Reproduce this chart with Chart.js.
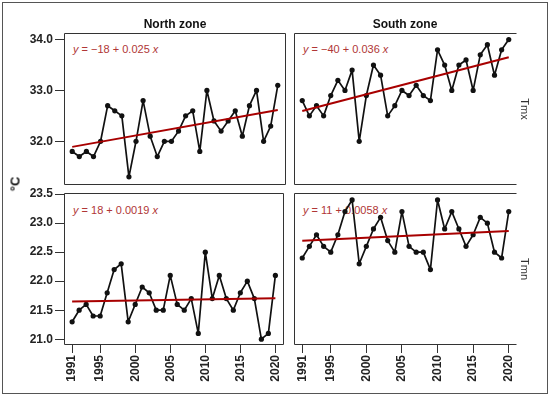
<!DOCTYPE html>
<html lang="en">
<head>
  <meta charset="UTF-8">
  <title>Tmx / Tmn by zone</title>
  <script src="https://cdn.jsdelivr.net/npm/chart.js"></script>
  <style>
    body {
      margin: 0;
      width: 550px;
      height: 396px;
      background: #fff;
      font-family: "Liberation Sans", Arial, sans-serif;
      position: relative;
      overflow: hidden;
    }
    .frame {
      position: absolute;
      left: 2px; top: 2px;
      width: 546px; height: 392px;
      box-sizing: border-box;
      border: 1px solid #555;
    }
    canvas { position: absolute; z-index: 2; }
    .lbl {
      position: absolute;
      transform: translate(-50%, -50%);
      white-space: nowrap;
      color: #111;
      z-index: 3;
    }
    .strip { font-size: 12px; font-weight: bold; }
    .side { font-size: 11px; color: #333; transform: translate(-50%, -50%) rotate(90deg); }
    .unit { font-size: 13px; font-weight: bold; transform: translate(-50%, -50%) rotate(-90deg); }
    .eq {
      position: absolute;
      font-size: 11px;
      color: #b03636;
      white-space: nowrap;
      z-index: 1;
    }
  </style>
</head>
<body>

<div class="frame"></div>

<div class="lbl strip" style="left:175px; top:24px;">North zone</div>
<div class="lbl strip" style="left:405px; top:24px;">South zone</div>
<div class="lbl side" style="left:525px; top:109px;">Tmx</div>
<div class="lbl side" style="left:525px; top:269px;">Tmn</div>
<div class="lbl unit" style="left:15px; top:184px;">°C</div>

<div class="eq" style="left:73px; top:43px;"><i>y</i> = −18 + 0.025 <i>x</i></div>
<div class="eq" style="left:303px; top:43px;"><i>y</i> = −40 + 0.036 <i>x</i></div>
<div class="eq" style="left:73px; top:204px;"><i>y</i> = 18 + 0.0019 <i>x</i></div>
<div class="eq" style="left:303px; top:204px;"><i>y</i> = 11 + 0.0058 <i>x</i></div>

<canvas id="nTmx" width="292" height="172" style="left:0; top:23px;"></canvas>
<canvas id="sTmx" width="240" height="172" style="left:288px; top:23px;"></canvas>
<canvas id="nTmn" width="292" height="210" style="left:0; top:183px;"></canvas>
<canvas id="sTmn" width="240" height="210" style="left:288px; top:183px;"></canvas>

<script>
  // years 1991..2020
  const years = [1991,1992,1993,1994,1995,1996,1997,1998,1999,2000,
                 2001,2002,2003,2004,2005,2006,2007,2008,2009,2010,
                 2011,2012,2013,2014,2015,2016,2017,2018,2019,2020];

  const northTmx = [31.8,31.7,31.8,31.7,32.0,32.7,32.6,32.5,31.3,32.0,
                    32.8,32.1,31.7,32.0,32.0,32.2,32.5,32.6,31.8,33.0,
                    32.4,32.2,32.4,32.6,32.1,32.7,33.0,32.0,32.3,33.1];
  const southTmx = [32.8,32.5,32.7,32.5,32.9,33.2,33.0,33.4,32.0,32.9,
                    33.5,33.3,32.5,32.7,33.0,32.9,33.1,32.9,32.8,33.8,
                    33.5,33.0,33.5,33.6,33.0,33.7,33.9,33.3,33.8,34.0];
  const northTmn = [21.3,21.5,21.6,21.4,21.4,21.8,22.2,22.3,21.3,21.6,
                    21.9,21.8,21.5,21.5,22.1,21.6,21.5,21.7,21.1,22.5,
                    21.7,22.1,21.7,21.5,21.8,22.0,21.7,21.0,21.1,22.1];
  const southTmn = [22.4,22.6,22.8,22.6,22.5,22.8,23.2,23.4,22.3,22.6,
                    22.9,23.1,22.7,22.5,23.2,22.6,22.5,22.5,22.2,23.4,
                    22.9,23.2,22.9,22.6,22.8,23.1,23.0,22.5,22.4,23.2];

  const xTicks = [1991,1995,2000,2005,2010,2015,2020];
  const tmxTicks = [32.0,33.0,34.0];
  const tmnTicks = [21.0,21.5,22.0,22.5,23.0,23.5];

  const font = "'Liberation Sans', Arial, sans-serif";

  // least squares line over the series (what the equations describe)
  function trend(vals) {
    const n = years.length;
    const mx = years.reduce((a, b) => a + b, 0) / n;
    const my = vals.reduce((a, b) => a + b, 0) / n;
    let sxy = 0, sxx = 0;
    years.forEach((x, i) => { sxy += (x - mx) * (vals[i] - my); sxx += (x - mx) * (x - mx); });
    const b = sxy / sxx, a = my - b * mx;
    return [years[0], years[n - 1]].map(x => ({ x: x, y: a + b * x }));
  }

  const boxPlugin = {
    id: "panelBox",
    afterDraw(chart, args, opts) {
      const a = chart.chartArea, c = chart.ctx;
      c.save();
      c.strokeStyle = "#333";
      c.lineWidth = 1;
      c.beginPath();
      const l = Math.round(a.left) + 0.5, r = Math.round(a.right) - 0.5;
      const t = Math.round(a.top) + 0.5, b = Math.round(a.bottom) - 0.5;
      c.moveTo(r, t); c.lineTo(l, t); c.lineTo(l, b); c.lineTo(r, b);
      if (opts.right) c.lineTo(r, t);
      c.stroke();
      c.restore();
    }
  };

  function makePanel(id, vals, p) {
    new Chart(document.getElementById(id), {
      type: "line",
      data: {
        datasets: [
          {
            data: trend(vals),
            borderColor: "#a80000",
            borderWidth: 2,
            pointRadius: 0,
            order: 0
          },
          {
            data: years.map((y, i) => ({ x: y, y: vals[i] })),
            borderColor: "#111",
            borderWidth: 1.7,
            borderJoinStyle: "round",
            pointRadius: 2.6,
            pointBackgroundColor: "#111",
            pointBorderWidth: 0,
            tension: 0,
            order: 1
          }
        ]
      },
      options: {
        responsive: false,
        maintainAspectRatio: false,
        animation: false,
        layout: { padding: p.padding },
        plugins: {
          legend: { display: false },
          tooltip: { enabled: false },
          panelBox: { right: p.right }
        },
        scales: {
          x: {
            type: "linear",
            min: 1989.84,
            max: 2021.16,
            display: p.showX,
            afterBuildTicks: s => { s.ticks = xTicks.map(v => ({ value: v })); },
            afterFit: s => { s.height = p.showX ? 48 : 0; },
            ticks: {
              autoSkip: false,
              minRotation: 90,
              maxRotation: 90,
              padding: 2,
              color: "#222",
              font: { family: font, size: 12, weight: "bold" },
              callback: v => String(v)
            },
            grid: { drawOnChartArea: false, drawTicks: true, tickLength: 8, color: "#333" },
            border: { display: false }
          },
          y: {
            min: p.yMin,
            max: p.yMax,
            display: p.showY,
            afterBuildTicks: s => { s.ticks = p.yTicks.map(v => ({ value: v })); },
            afterFit: s => { s.width = p.showY ? 64 : 0; },
            ticks: {
              padding: 2,
              color: "#222",
              font: { family: font, size: 12, weight: "bold" },
              callback: v => v.toFixed(1)
            },
            grid: { drawOnChartArea: false, drawTicks: true, tickLength: 9, color: "#333" },
            border: { display: false }
          }
        }
      },
      plugins: [boxPlugin]
    });
  }

  makePanel("nTmx", northTmx, { showX: false, showY: true, right: true,
    yMin: 31.14, yMax: 34.13, yTicks: tmxTicks,
    padding: { left: 0, right: 6, top: 10, bottom: 10 } });
  makePanel("sTmx", southTmx, { showX: false, showY: false, right: false,
    yMin: 31.14, yMax: 34.13, yTicks: tmxTicks,
    padding: { left: 6, right: 11, top: 10, bottom: 10 } });
  makePanel("nTmn", northTmn, { showX: true, showY: true, right: true,
    yMin: 20.9, yMax: 23.52, yTicks: tmnTicks,
    padding: { left: 0, right: 6, top: 10, bottom: 0 } });
  makePanel("sTmn", southTmn, { showX: true, showY: false, right: false,
    yMin: 20.9, yMax: 23.52, yTicks: tmnTicks,
    padding: { left: 6, right: 11, top: 10, bottom: 0 } });
</script>

</body>
</html>
